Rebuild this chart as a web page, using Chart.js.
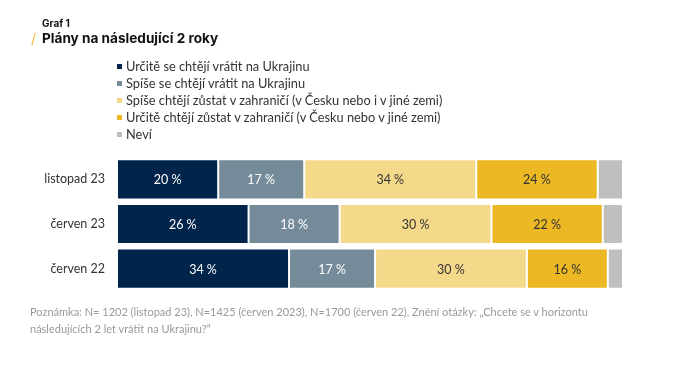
<!DOCTYPE html>
<html><head><meta charset="utf-8">
<script src="https://cdn.jsdelivr.net/npm/chart.js@4"></script>
<style>
html,body{margin:0;padding:0;background:#fff;}
#wrap{position:relative;width:696px;height:380px;overflow:hidden;font-family:Lato,"Noto Sans",sans-serif;}
#c{position:absolute;left:0;top:0;}
.t1{position:absolute;left:42px;top:17px;font:bold 10px Inter,sans-serif;color:#111;}
.t2{position:absolute;left:42px;top:30px;font:bold 13.6px Inter,sans-serif;color:#111;}
.slash{position:absolute;left:31px;top:30px;font:14px Inter,sans-serif;color:#f0b93a;}
#legend{position:absolute;left:117px;top:58px;font-size:12.8px;color:#333;line-height:17px;}
#legend .sw{display:inline-block;width:5px;height:5px;margin-right:4px;vertical-align:2px;}
.note{position:absolute;left:30px;top:303px;font-size:11px;color:#999;line-height:17px;width:640px;}
</style></head>
<body><div id="wrap">
<canvas id="c" width="696" height="380"></canvas>
<div class="t1">Graf 1</div>
<div class="slash">/</div>
<div class="t2">Plány na následující 2 roky</div>
<div id="legend"></div>
<div class="note">Poznámka: N= 1202 (listopad 23), N=1425 (červen 2023), N=1700 (červen 22), Znění otázky: „Chcete se v horizontu<br>následujících 2 let vrátit na Ukrajinu?“</div>
</div>
<script>
const categories = ["listopad 23", "červen 23", "červen 22"];
const seriesNames = [
  "Určitě se chtějí vrátit na Ukrajinu",
  "Spíše se chtějí vrátit na Ukrajinu",
  "Spíše chtějí zůstat v zahraničí (v Česku nebo i v jiné zemi)",
  "Určitě chtějí zůstat v zahraničí (v Česku nebo v jiné zemi)",
  "Neví"
];
const urciteVratit = [20, 26, 34];
const spiseVratit = [17, 18, 17];
const spiseZustat = [34, 30, 30];
const urciteZustat = [24, 22, 16];
const nevi = [5, 4, 3];
const colors = ["#00244a", "#768b99", "#f5d98b", "#ecb824", "#bfbfbf"];
const labelColors = ["#ffffff", "#ffffff", "#333333", "#333333", null];

const seriesData = [urciteVratit, spiseVratit, spiseZustat, urciteZustat, nevi];

const leg = document.getElementById('legend');
seriesNames.forEach((n,i)=>{
  const d = document.createElement('div');
  d.innerHTML = '<span class="sw" style="background:'+colors[i]+'"></span>'+n;
  leg.appendChild(d);
});

const valueLabels = {
  id:'valueLabels',
  afterDatasetsDraw(chart){
    const ctx = chart.ctx;
    ctx.save();
    ctx.font = '12.5px Lato, "Noto Sans", sans-serif';
    ctx.textAlign='center'; ctx.textBaseline='middle';
    chart.data.datasets.forEach((ds,i)=>{
      if(!labelColors[i]) return;
      chart.getDatasetMeta(i).data.forEach((bar,j)=>{
        ctx.fillStyle = labelColors[i];
        ctx.fillText(ds.data[j]+' %', (bar.x+bar.base)/2, bar.y+1);
      });
    });
    ctx.restore();
  }
};

new Chart(document.getElementById('c'), {
  type:'bar',
  data:{
    labels:categories,
    datasets: seriesData.map((d,i)=>({
      label:seriesNames[i], data:d, backgroundColor:colors[i],
      borderColor:'#ffffff', borderWidth:1, borderSkipped:false,
      barPercentage:0.9, categoryPercentage:1
    }))
  },
  options:{
    indexAxis:'y', responsive:false, animation:false,
    layout:{padding:{left:0,right:73,top:157,bottom:89}},
    plugins:{legend:{display:false}, tooltip:{enabled:false}},
    scales:{
      x:{stacked:true, min:0, max:100, display:false},
      y:{stacked:true, grid:{display:false, drawTicks:false}, border:{display:false},
         ticks:{color:'#333', padding:12, font:{family:'Lato, "Noto Sans", sans-serif', size:12.5}},
         afterFit(s){ s.width = 117; }}
    }
  },
  plugins:[valueLabels]
});
</script>
</body></html>
